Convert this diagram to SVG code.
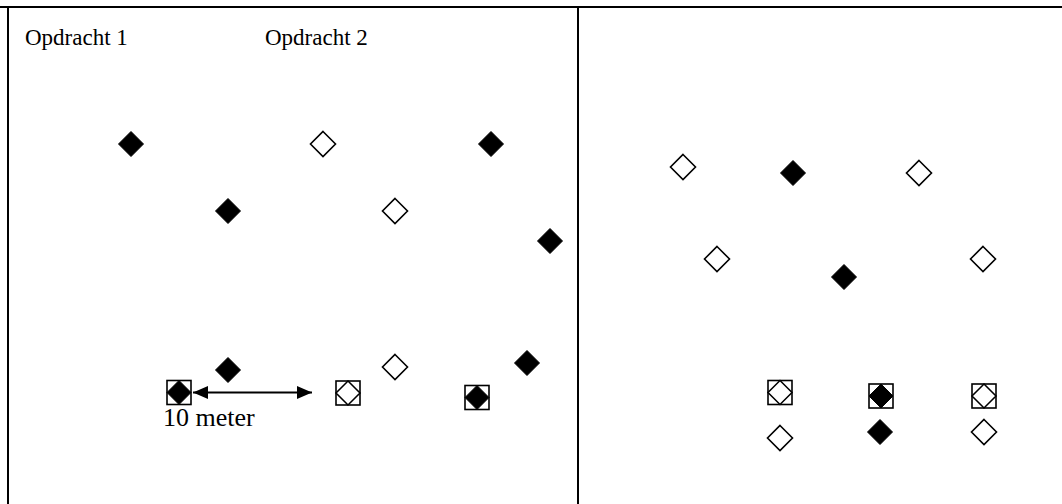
<svg xmlns="http://www.w3.org/2000/svg" width="1062" height="504" viewBox="0 0 1062 504">
<style>
.frame{stroke:#000;stroke-width:2;fill:none}
.f{fill:#000;stroke:#000;stroke-width:1}
.o{fill:#fff;stroke:#000;stroke-width:1.6}
.box{fill:#fff;stroke:#000;stroke-width:1.6}
text{font-family:"Liberation Serif","Times New Roman",serif;fill:#000}
</style>
<defs>
<path id="d" d="M0,-12.5 L12.5,0 L0,12.5 L-12.5,0 Z"/>
<marker id="ah" viewBox="0 0 15 13" refX="15" refY="6.5" markerWidth="15" markerHeight="13" markerUnits="userSpaceOnUse" orient="auto-start-reverse">
<path d="M0,0 L15,6.5 L0,13 Z" fill="#000"/>
</marker>
</defs>
<g id="frame">
<line class="frame" x1="0" y1="7" x2="1062" y2="7"/>
<line class="frame" x1="8" y1="6" x2="8" y2="504"/>
<line class="frame" x1="578" y1="6" x2="578" y2="504"/>
</g>
<g id="labels">
<text x="25" y="45" font-size="23">Opdracht 1</text>
<text x="265" y="45" font-size="23">Opdracht 2</text>
<text x="163" y="426" font-size="26">10 meter</text>
</g>
<g id="left">
<g id="n1"><use href="#d" class="f" x="131" y="144"/></g>
<g id="n2"><use href="#d" class="o" x="323" y="144"/></g>
<g id="n3"><use href="#d" class="f" x="491" y="144"/></g>
<g id="n4"><use href="#d" class="f" x="228" y="211"/></g>
<g id="n5"><use href="#d" class="o" x="395" y="211"/></g>
<g id="n6"><use href="#d" class="f" x="550" y="241"/></g>
<g id="n7"><use href="#d" class="f" x="228" y="370"/></g>
<g id="n8"><use href="#d" class="o" x="395" y="367"/></g>
<g id="n9"><use href="#d" class="f" x="527" y="363"/></g>
<g id="n10"><rect class="box" x="167" y="380.5" width="24" height="24"/><use href="#d" class="f" x="179" y="392.5" transform="translate(179 392.5) scale(0.96) translate(-179 -392.5)"/></g>
<g id="n11"><rect class="box" x="336" y="381" width="24" height="24"/><use href="#d" class="o" x="348" y="393" transform="translate(348 393) scale(0.96) translate(-348 -393)"/></g>
<g id="n12"><rect class="box" x="465" y="385.5" width="24" height="24"/><use href="#d" class="f" x="477" y="397.5" transform="translate(477 397.5) scale(0.96) translate(-477 -397.5)"/></g>
</g>
<g id="right">
<g id="r1"><use href="#d" class="o" x="683" y="167"/></g>
<g id="r2"><use href="#d" class="f" x="793" y="173"/></g>
<g id="r3"><use href="#d" class="o" x="919" y="173"/></g>
<g id="r4"><use href="#d" class="o" x="717" y="259"/></g>
<g id="r5"><use href="#d" class="f" x="844" y="277"/></g>
<g id="r6"><use href="#d" class="o" x="983" y="259"/></g>
<g id="r7"><rect class="box" x="768" y="380.5" width="24" height="24"/><use href="#d" class="o" x="780" y="392.5" transform="translate(780 392.5) scale(0.96) translate(-780 -392.5)"/></g>
<g id="r8"><rect class="box" x="869" y="384" width="24" height="24"/><use href="#d" class="f" x="881" y="396" transform="translate(881 396) scale(0.96) translate(-881 -396)"/></g>
<g id="r9"><rect class="box" x="972" y="384" width="24" height="24"/><use href="#d" class="o" x="984" y="396" transform="translate(984 396) scale(0.96) translate(-984 -396)"/></g>
<g id="r10"><use href="#d" class="o" x="780" y="438"/></g>
<g id="r11"><use href="#d" class="f" x="880" y="432"/></g>
<g id="r12"><use href="#d" class="o" x="984" y="432"/></g>
</g>
<g id="connectors">
<line x1="193" y1="392.5" x2="312" y2="392.5" stroke="#000" stroke-width="2" marker-start="url(#ah)" marker-end="url(#ah)"/>
</g>
</svg>
